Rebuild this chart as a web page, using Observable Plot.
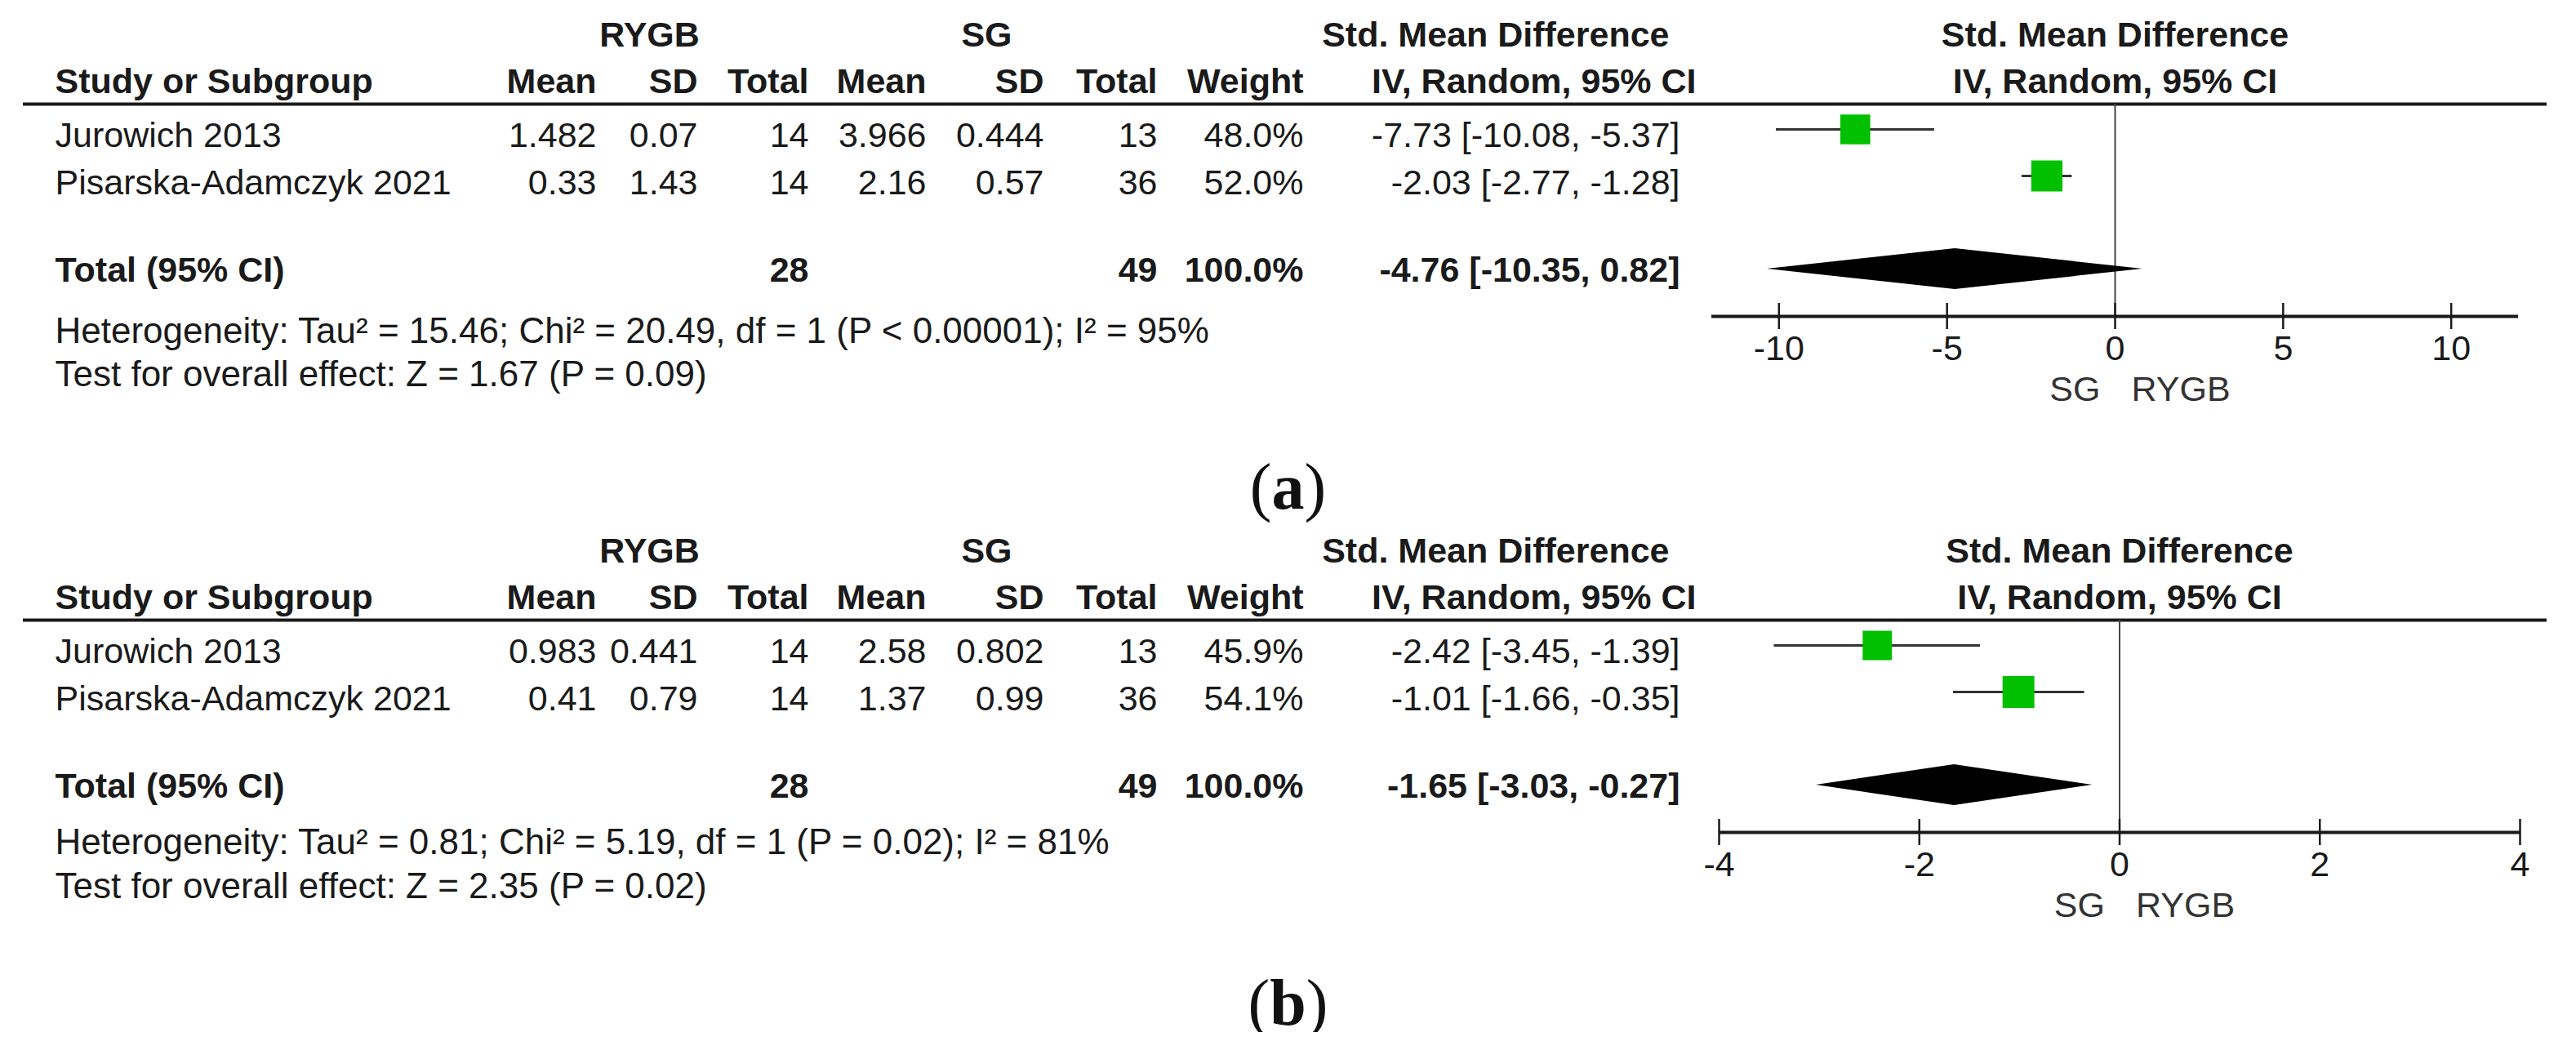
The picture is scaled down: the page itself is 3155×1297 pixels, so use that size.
<!DOCTYPE html>
<html><head><meta charset="utf-8">
<script src="https://cdn.jsdelivr.net/npm/d3@7"></script>
<script src="https://cdn.jsdelivr.net/npm/@observablehq/plot@0.6"></script>
<style>
html,body{margin:0;padding:0;background:#fff;}
#wrap{width:3155px;}
.cap{width:3155px;height:112px;text-align:center;font-family:"Liberation Serif","Times New Roman",serif;font-size:80px;line-height:1;box-sizing:border-box;padding-top:36px;color:#111;}
.cap span{font-weight:normal}
</style></head><body><div id="wrap"></div>
<script>
// ---------- data ----------
const studies = ["Jurowich 2013", "Pisarska-Adamczyk 2021"];
const groupHeads = ["RYGB", "SG"];
const colHeads = ["Study or Subgroup", "Mean", "SD", "Total", "Mean", "SD", "Total", "Weight"];
const effectHead = ["Std. Mean Difference", "IV, Random, 95% CI"];
const favourLabels = ["SG", "RYGB"];

// panel (a)
const aRygbMean = [1.482, 0.33];
const aRygbSd = [0.07, 1.43];
const aRygbN = [14, 14];
const aSgMean = [3.966, 2.16];
const aSgSd = [0.444, 0.57];
const aSgN = [13, 36];
const aWeight = [48.0, 52.0];
const aSmd = [-7.73, -2.03];
const aLo = [-10.08, -2.77];
const aHi = [-5.37, -1.28];
const aTotal = [-4.76, -10.35, 0.82];     // estimate, lower, upper
const aTotalN = [28, 49];
const aHet = ["15.46", "20.49", "1", "P < 0.00001", "95"]; // Tau², Chi², df, P, I²
const aZ = ["1.67", "P = 0.09"];
const aDomain = [-12, 12];
const aTicks = [-10, -5, 0, 5, 10];

// panel (b)
const bRygbMean = [0.983, 0.41];
const bRygbSd = [0.441, 0.79];
const bRygbN = [14, 14];
const bSgMean = [2.58, 1.37];
const bSgSd = [0.802, 0.99];
const bSgN = [13, 36];
const bWeight = [45.9, 54.1];
const bSmd = [-2.42, -1.01];
const bLo = [-3.45, -1.66];
const bHi = [-1.39, -0.35];
const bTotal = [-1.65, -3.03, -0.27];
const bTotalN = [28, 49];
const bHet = ["0.81", "5.19", "1", "P = 0.02", "81"];
const bZ = ["2.35", "P = 0.02"];
const bDomain = [-4, 4];
const bTicks = [-4, -2, 0, 2, 4];

// ---------- layout (pixels) ----------
const W = 3155, H = 520;
const COL = {name: 67, rMean: 730, rSd: 854, rN: 990, sMean: 1134, sSd: 1278, sN: 1417, w: 1596, ci: 2057,
             grpR: 795, grpS: 1208, effHead1: 2044, effHead2: 2077, ruleL: 28, ruleR: 3119};
const ROW = {head1: 43, head2: 100, rule: 127, text: [166, 224], mark: [158, 215], total: 331,
             diamond: 329, diamondHalf: 25, axis: 387, tickHalf: 16, tickLab: 427, favour: 477};
const INK = "#1a1a1a";
const fmt2 = v => v.toFixed(2);
const ciText = (e, l, h) => `${fmt2(e)} [${fmt2(l)}, ${fmt2(h)}]`;

function forest(p) {
  const L = p.left, R = W - p.right;
  const t = (data, px, o) => Plot.text(data, {frameAnchor: "left", dx: px - L, fill: INK, ...o});
  const rows = studies.map((s, i) => ({
    name: s, rm: p.rMean[i], rs: p.rSd[i], rn: p.rN[i], sm: p.sMean[i], ss: p.sSd[i], sn: p.sN[i],
    w: p.weight[i], est: p.smd[i], lo: p.lo[i], hi: p.hi[i], ty: ROW.text[i], my: ROW.mark[i]
  }));
  const heads = [
    {t: groupHeads[0], px: COL.grpR, y: ROW.head1, a: "middle"},
    {t: groupHeads[1], px: COL.grpS, y: ROW.head1, a: "middle"},
    {t: effectHead[0], px: COL.effHead1, y: ROW.head1, a: "end"},
    {t: effectHead[1], px: COL.effHead2, y: ROW.head2, a: "end"},
    {t: colHeads[0], px: COL.name, y: ROW.head2, a: "start"},
    {t: colHeads[1], px: COL.rMean, y: ROW.head2, a: "end"},
    {t: colHeads[2], px: COL.rSd, y: ROW.head2, a: "end"},
    {t: colHeads[3], px: COL.rN, y: ROW.head2, a: "end"},
    {t: colHeads[4], px: COL.sMean, y: ROW.head2, a: "end"},
    {t: colHeads[5], px: COL.sSd, y: ROW.head2, a: "end"},
    {t: colHeads[6], px: COL.sN, y: ROW.head2, a: "end"},
    {t: colHeads[7], px: COL.w, y: ROW.head2, a: "end"}
  ];
  const cols = [
    [COL.name, d => d.name, "start"], [COL.rMean, d => String(d.rm), "end"], [COL.rSd, d => String(d.rs), "end"],
    [COL.rN, d => String(d.rn), "end"], [COL.sMean, d => String(d.sm), "end"], [COL.sSd, d => String(d.ss), "end"],
    [COL.sN, d => String(d.sn), "end"], [COL.w, d => d.w.toFixed(1) + "%", "end"],
    [COL.ci, d => ciText(d.est, d.lo, d.hi), "end"]
  ];
  const [te, tl, th] = p.total;
  const totalCells = [
    [COL.name, "Total (95% CI)", "start"], [COL.rN, String(p.totalN[0]), "end"], [COL.sN, String(p.totalN[1]), "end"],
    [COL.w, p.weight.reduce((a, b) => a + b, 0).toFixed(1) + "%", "end"], [COL.ci, ciText(te, tl, th), "end"]
  ];
  const diamond = [
    {y: ROW.diamond - ROW.diamondHalf, x1: te, x2: te},
    {y: ROW.diamond, x1: tl, x2: th},
    {y: ROW.diamond + ROW.diamondHalf, x1: te, x2: te}
  ];
  const hetText = `Heterogeneity: Tau² = ${p.het[0]}; Chi² = ${p.het[1]}, df = ${p.het[2]} (${p.het[3]}); I² = ${p.het[4]}%`;
  const zText = `Test for overall effect: Z = ${p.z[0]} (${p.z[1]})`;

  return Plot.plot({
    width: W, height: H, marginLeft: L, marginRight: p.right, marginTop: 0, marginBottom: 0,
    style: {fontFamily: "'Liberation Sans', Arial, sans-serif", fontSize: "43px", background: "white", overflow: "visible"},
    x: {domain: p.domain, axis: null},
    y: {domain: [0, H], range: [0, H], axis: null},
    r: {type: "sqrt", domain: [0, 100], range: [0, 29.9]},
    marks: [
      ...heads.map(h => t([h], h.px, {y: "y", text: "t", textAnchor: h.a, fontWeight: "bold"})),
      Plot.text([effectHead[0]], {frameAnchor: "middle", y: ROW.head1, text: d => d, fontWeight: "bold", fill: INK}),
      Plot.text([effectHead[1]], {frameAnchor: "middle", y: ROW.head2, text: d => d, fontWeight: "bold", fill: INK}),
      Plot.ruleY([ROW.rule], {insetLeft: -(L - COL.ruleL), insetRight: -(COL.ruleR - R), stroke: INK, strokeWidth: 4}),
      ...cols.map(([px, f, a]) => t(rows, px, {y: "ty", text: f, textAnchor: a})),
      ...totalCells.map(([px, s, a]) => t([s], px, {y: ROW.total, text: d => d, textAnchor: a, fontWeight: "bold"})),
      t([hetText], COL.name, {y: p.hetY, text: d => d, textAnchor: "start", fontSize: 44}),
      t([zText], COL.name, {y: p.testY, text: d => d, textAnchor: "start", fontSize: 44}),
      Plot.ruleX([0], {y1: ROW.rule, y2: ROW.axis, stroke: "#444", strokeWidth: 2}),
      Plot.ruleY(rows, {y: "my", x1: "lo", x2: "hi", stroke: "#333", strokeWidth: 3}),
      Plot.dot(rows, {x: "est", y: "my", r: "w", symbol: "square", fill: "#00c000", stroke: "none"}),
      Plot.areaX(diamond, {y: "y", x1: "x1", x2: "x2", fill: "#000", curve: "linear"}),
      Plot.ruleY([ROW.axis], {stroke: INK, strokeWidth: 4}),
      Plot.ruleX(p.ticks, {y1: ROW.axis - ROW.tickHalf, y2: ROW.axis + ROW.tickHalf, stroke: INK, strokeWidth: 2.5}),
      Plot.text(p.ticks, {x: d => d, y: ROW.tickLab, text: d => String(d), fill: INK}),
      Plot.text([favourLabels[0]], {x: 0, y: ROW.favour, dx: -18, text: d => d, textAnchor: "end", fill: "#333"}),
      Plot.text([favourLabels[1]], {x: 0, y: ROW.favour, dx: 20, text: d => d, textAnchor: "start", fill: "#333"})
    ]
  });
}

const wrap = document.getElementById("wrap");
function caption(letter) {
  const d = document.createElement("div");
  d.className = "cap";
  d.innerHTML = `<span>(</span><b>${letter}</b><span>)</span>`;
  return d;
}
wrap.appendChild(forest({left: 2096, right: W - 3084, domain: aDomain, ticks: aTicks, hetY: 405, testY: 458,
  rMean: aRygbMean, rSd: aRygbSd, rN: aRygbN, sMean: aSgMean, sSd: aSgSd, sN: aSgN, weight: aWeight,
  smd: aSmd, lo: aLo, hi: aHi, total: aTotal, totalN: aTotalN, het: aHet, z: aZ}));
wrap.appendChild(caption("a"));
wrap.appendChild(forest({left: 2105, right: W - 3086, domain: bDomain, ticks: bTicks, hetY: 399, testY: 453,
  rMean: bRygbMean, rSd: bRygbSd, rN: bRygbN, sMean: bSgMean, sSd: bSgSd, sN: bSgN, weight: bWeight,
  smd: bSmd, lo: bLo, hi: bHi, total: bTotal, totalN: bTotalN, het: bHet, z: bZ}));
wrap.appendChild(caption("b"));
</script></body></html>
